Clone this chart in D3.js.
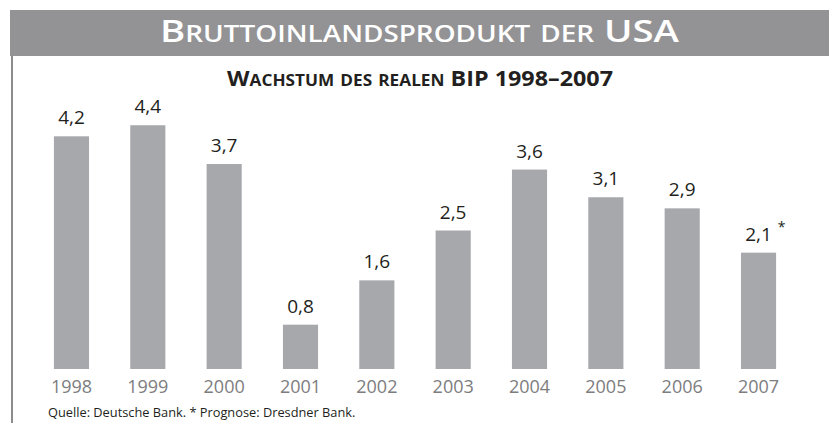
<!DOCTYPE html>
<html>
<head>
<meta charset="utf-8">
<script src="https://cdn.jsdelivr.net/npm/d3@7"></script>
<style>
  body { margin: 0; background: #fff; }
  svg { display: block; font-family: 'Open Sans', sans-serif; }
</style>
</head>
<body>
<svg width="829" height="423"></svg>
<script>
const years  = ['1998', '1999', '2000', '2001', '2002', '2003', '2004', '2005', '2006', '2007'];
const growth = [4.2, 4.4, 3.7, 0.8, 1.6, 2.5, 3.6, 3.1, 2.9, 2.1];
const notes  = ['', '', '', '', '', '', '', '', '', '*'];

const title    = 'Bruttoinlandsprodukt der USA';
const subtitle = 'Wachstum des realen BIP 1998–2007';
const source   = 'Quelle: Deutsche Bank. * Prognose: Dresdner Bank.';

const svg = d3.select('svg');
const width  = +svg.attr('width');
const height = +svg.attr('height');

// header band + left rule
svg.append('rect')
  .attr('x', 10).attr('y', 10)
  .attr('width', width - 10).attr('height', 46)
  .attr('fill', '#939396');
svg.append('line')
  .attr('x1', 12).attr('x2', 12)
  .attr('y1', 56).attr('y2', height)
  .attr('stroke', '#8c8c8e')
  .attr('stroke-width', 2);

// fake small caps: lowercase letters become smaller capitals
const smallCaps = (sel, str, big, small) => {
  str.split('').forEach(ch => {
    const lower = ch !== ch.toUpperCase();
    sel.append('tspan')
      .attr('font-size', lower ? small : big)
      .text(ch.toUpperCase());
  });
};

const titleText = svg.append('text')
  .attr('x', 419.5).attr('y', 42)
  .attr('text-anchor', 'middle')
  .attr('fill', '#fff')
  .attr('font-weight', 600)
  .attr('textLength', 519)
  .attr('lengthAdjust', 'spacingAndGlyphs');
smallCaps(titleText, title, 31, 22.5);

const subText = svg.append('text')
  .attr('x', 420).attr('y', 86)
  .attr('text-anchor', 'middle')
  .attr('fill', '#231f20')
  .attr('font-weight', 700)
  .attr('textLength', 386)
  .attr('lengthAdjust', 'spacingAndGlyphs');
smallCaps(subText, subtitle, 21, 15.5);

const data = years.map((y, i) => ({ year: y, value: growth[i], note: notes[i] }));

const xScale = d3.scaleBand()
  .domain(years)
  .range([33.3, 796.7])
  .paddingInner(0.54)
  .paddingOuter(0.27);

const yScale = d3.scaleLinear()
  .domain([0, 4.4])
  .range([369, 369 - 4.4 * 55.4]);

svg.selectAll('rect.bar')
  .data(data)
  .enter()
  .append('rect')
    .attr('class', 'bar')
    .attr('x', d => xScale(d.year))
    .attr('y', d => yScale(d.value))
    .attr('width', xScale.bandwidth())
    .attr('height', d => yScale(0) - yScale(d.value))
    .attr('fill', '#a7a8ac');

const fmt = v => v.toFixed(1).replace('.', ',');

svg.selectAll('text.value')
  .data(data)
  .enter()
  .append('text')
    .attr('class', 'value')
    .attr('x', d => xScale(d.year) + xScale.bandwidth() / 2)
    .attr('y', d => yScale(d.value) - 12)
    .attr('text-anchor', 'middle')
    .attr('font-size', 19)
    .attr('fill', '#231f20')
    .text(d => fmt(d.value));

svg.selectAll('text.note')
  .data(data.filter(d => d.note))
  .enter()
  .append('text')
    .attr('class', 'note')
    .attr('x', d => xScale(d.year) + xScale.bandwidth() / 2 + 23)
    .attr('y', d => yScale(d.value) - 21)
    .attr('text-anchor', 'middle')
    .attr('font-size', 14)
    .attr('fill', '#231f20')
    .text(d => d.note);

const xAxis = d3.axisBottom(xScale).tickSize(0).tickPadding(0);
const xAxisGroup = svg.append('g')
  .attr('transform', 'translate(0, 380)')
  .call(xAxis);
xAxisGroup.select('.domain').remove();
xAxisGroup.selectAll('text')
  .attr('font-family', "'Open Sans', sans-serif")
  .attr('font-size', 18)
  .attr('fill', '#7d7d80');

svg.append('text')
  .attr('x', 48).attr('y', 417)
  .attr('font-size', 12.8)
  .attr('fill', '#231f20')
  .text(source);
</script>
</body>
</html>
